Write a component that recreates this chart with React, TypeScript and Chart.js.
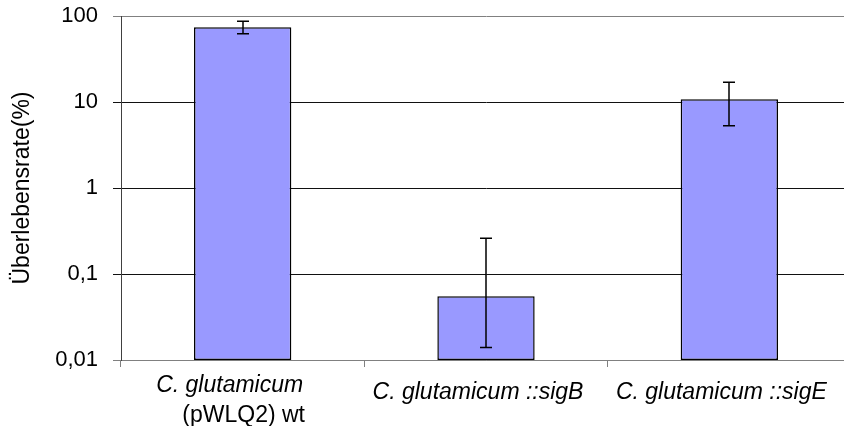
import React, { useEffect, useRef } from 'react';
import { Chart, registerables } from 'chart.js';

Chart.register(...registerables);

// ---- data ----
const categoryLines: string[][] = [
  ['C. glutamicum', '(pWLQ2) wt'],
  ['C. glutamicum ::sigB'],
  ['C. glutamicum ::sigE'],
];
const categoryItalic: boolean[][] = [[true, false], [true], [true]];
const survival: number[] = [74, 0.055, 10.8];
const errLow: number[] = [62, 0.014, 5.3];
const errHigh: number[] = [87, 0.26, 17];
const yTickValues: number[] = [0.01, 0.1, 1, 10, 100];
const yTickLabels: string[] = ['0,01', '0,1', '1', '10', '100'];
const yTitle = 'Überlebensrate(%)';

const FONT = '"Liberation Sans", Arial, sans-serif';
// horizontal nudges of each label line relative to the category centre (styling)
const lineShift: number[][] = [[-13, 1], [-8], [-8]];

const errorBarPlugin = {
  id: 'errorBars',
  afterDatasetsDraw(chart: any) {
    const ctx = chart.ctx;
    const meta = chart.getDatasetMeta(0);
    const y = chart.scales.y;
    ctx.save();
    ctx.strokeStyle = '#000';
    ctx.lineWidth = 1.5;
    meta.data.forEach((el: any, i: number) => {
      const x = Math.round(el.x);
      const yHi = y.getPixelForValue(errHigh[i]);
      const yLo = y.getPixelForValue(errLow[i]);
      ctx.beginPath();
      ctx.moveTo(x, yHi);
      ctx.lineTo(x, yLo);
      ctx.moveTo(x - 6, yHi);
      ctx.lineTo(x + 6, yHi);
      ctx.moveTo(x - 6, yLo);
      ctx.lineTo(x + 6, yLo);
      ctx.stroke();
    });
    ctx.restore();
  },
};

const xLabelPlugin = {
  id: 'xLabels',
  afterDraw(chart: any) {
    const ctx = chart.ctx;
    const xs = chart.scales.x;
    const bottom = chart.chartArea.bottom;
    ctx.save();
    ctx.fillStyle = '#000';
    ctx.textAlign = 'center';
    ctx.textBaseline = 'alphabetic';
    categoryLines.forEach((lines, i) => {
      const c = xs.getPixelForValue(i);
      const n = lines.length;
      const y0 = bottom + 39 - (n - 1) * 7;
      lines.forEach((line, j) => {
        ctx.font = `${categoryItalic[i][j] ? 'italic ' : ''}23px ${FONT}`;
        ctx.fillText(line, c + lineShift[i][j], y0 + j * 30);
      });
    });
    ctx.restore();
  },
};

export default function App() {
  const ref = useRef<HTMLCanvasElement | null>(null);

  useEffect(() => {
    if (!ref.current) return;
    const chart = new Chart(ref.current, {
      type: 'bar',
      data: {
        labels: categoryLines.map((l) => l.join(' ')),
        datasets: [
          {
            data: survival,
            backgroundColor: '#9999FF',
            borderColor: '#000',
            borderWidth: 1.5,
            borderSkipped: false,
            categoryPercentage: 1,
            barPercentage: 0.4,
          },
        ],
      },
      options: {
        responsive: false,
        animation: false,
        devicePixelRatio: 1,
        layout: { padding: { top: 16, right: 9, left: 0, bottom: 0 } },
        plugins: {
          legend: { display: false },
          tooltip: { enabled: false },
        },
        scales: {
          x: {
            type: 'category',
            offset: true,
            grid: {
              offset: true,
              drawOnChartArea: false,
              drawTicks: true,
              tickLength: 7,
              color: '#808080',
            },
            border: { display: true, color: '#808080', width: 1 },
            ticks: { callback: () => '', padding: 0 },
            afterFit: (scale: any) => {
              scale.height = 66;
              scale.paddingLeft = 0;
              scale.paddingRight = 0;
            },
          },
          y: {
            type: 'logarithmic',
            min: 0.01,
            max: 100,
            afterBuildTicks: (scale: any) => {
              scale.ticks = yTickValues.map((v) => ({ value: v }));
            },
            afterFit: (scale: any) => {
              scale.width = 121;
              scale.paddingTop = 0;
              scale.paddingBottom = 0;
            },
            grid: {
              color: (c: any) =>
                c.tick && (c.tick.value === 100 || c.tick.value === 0.01) ? '#808080' : '#111',
              tickLength: 8,
              drawTicks: true,
            },
            border: { display: true, color: '#404040', width: 1 },
            ticks: {
              padding: 15,
              color: '#000',
              font: { family: FONT, size: 22 },
              callback: (_v: any, i: number) => yTickLabels[i],
            },
            title: {
              display: true,
              text: yTitle,
              color: '#000',
              font: { family: FONT, size: 23 },
              padding: { top: 9, bottom: 0 },
            },
          },
        },
      },
      plugins: [errorBarPlugin, xLabelPlugin],
    } as any);
    return () => chart.destroy();
  }, []);

  return (
    <div
      style={{
        position: 'fixed',
        left: 0,
        top: 0,
        width: 844,
        height: 426,
        overflow: 'hidden',
        background: '#fff',
      }}
    >
      <canvas ref={ref} width={860} height={426} style={{ display: 'block' }} />
    </div>
  );
}
